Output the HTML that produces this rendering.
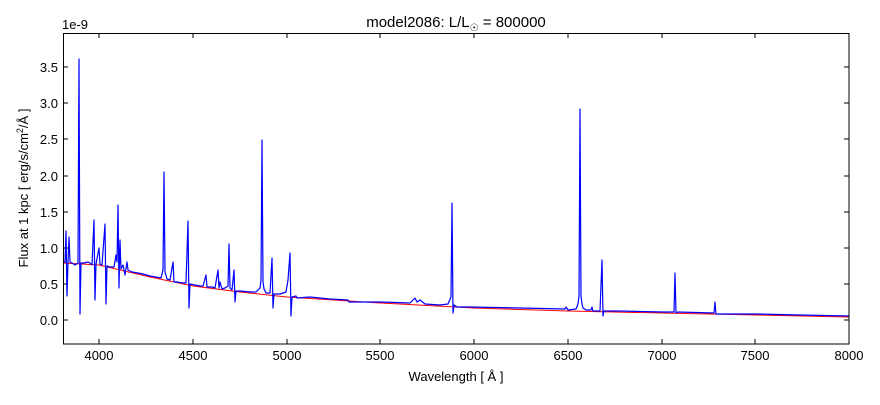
<!DOCTYPE html>
<html><head><meta charset="utf-8"><style>
html,body{margin:0;padding:0;background:#fff;}
svg text{font-family:"Liberation Sans","DejaVu Sans",sans-serif;fill:#000;}
</style></head><body>
<svg width="880" height="400" viewBox="0 0 880 400" xmlns="http://www.w3.org/2000/svg">
<rect width="880" height="400" fill="#fff"/>
<text x="456" y="27" font-size="15" text-anchor="middle">model2086: L/L<tspan font-size="10" dy="4">☉</tspan><tspan dy="-4"> = 800000</tspan></text>
<text x="62" y="29" font-size="13">1e-9</text>
<g stroke="#000" stroke-width="1">
<line x1="99" y1="344" x2="99" y2="339"/><line x1="193" y1="344" x2="193" y2="339"/><line x1="287" y1="344" x2="287" y2="339"/><line x1="380" y1="344" x2="380" y2="339"/><line x1="474" y1="344" x2="474" y2="339"/><line x1="568" y1="344" x2="568" y2="339"/><line x1="662" y1="344" x2="662" y2="339"/><line x1="755" y1="344" x2="755" y2="339"/>
<line x1="99" y1="33" x2="99" y2="38"/><line x1="193" y1="33" x2="193" y2="38"/><line x1="287" y1="33" x2="287" y2="38"/><line x1="380" y1="33" x2="380" y2="38"/><line x1="474" y1="33" x2="474" y2="38"/><line x1="568" y1="33" x2="568" y2="38"/><line x1="662" y1="33" x2="662" y2="38"/><line x1="755" y1="33" x2="755" y2="38"/>
<line x1="63" y1="320" x2="68" y2="320"/><line x1="63" y1="284" x2="68" y2="284"/><line x1="63" y1="248" x2="68" y2="248"/><line x1="63" y1="212" x2="68" y2="212"/><line x1="63" y1="176" x2="68" y2="176"/><line x1="63" y1="139" x2="68" y2="139"/><line x1="63" y1="103" x2="68" y2="103"/><line x1="63" y1="67" x2="68" y2="67"/>
<line x1="849" y1="320" x2="844" y2="320"/><line x1="849" y1="284" x2="844" y2="284"/><line x1="849" y1="248" x2="844" y2="248"/><line x1="849" y1="212" x2="844" y2="212"/><line x1="849" y1="176" x2="844" y2="176"/><line x1="849" y1="139" x2="844" y2="139"/><line x1="849" y1="103" x2="844" y2="103"/><line x1="849" y1="67" x2="844" y2="67"/>
</g>
<path d="M63,263 L99,265 L150,277 L193,286 L240,292 L287,297 L380,303 L474,308 L568,311 L662,313 L756,315 L849,317" fill="none" stroke="#ff0000" stroke-width="1"/>
<path d="M63,262 L65,262 L66,231 L67,296 L68,262 L69,237 L70,262 L72,263 L75,265 L78,263 L79,59 L80,314 L81,263 L84,263 L88,262 L90,263 L92,265 L94,220 L95,300 L96,264 L99,248 L100,264 L102,265 L105,224 L106,304 L107,266 L110,267 L114,267 L116,255 L117,262 L118,205 L119,288 L120,240 L121,269 L123,265 L125,275 L127,262 L128,270 L132,272 L138,273 L143,274 L150,276 L156,277 L161,278 L163,270 L164,172 L165,272 L167,279 L170,280 L173,262 L174,282 L177,282 L183,283 L186,283 L188,221 L189,308 L190,284 L195,285 L200,286 L203,286 L206,275 L207,287 L212,287 L215,288 L218,270 L219,288 L220,282 L222,289 L225,288 L228,286 L229,244 L230,288 L232,290 L234,270 L235,302 L236,291 L240,291 L250,292 L256,292 L260,288 L261,280 L262,140 L263,282 L264,289 L266,293 L270,293 L272,258 L273,308 L274,294 L280,294 L286,292 L288,280 L290,253 L291,316 L292,297 L296,296 L297,298 L310,297 L330,299 L348,300 L349,302 L380,302 L410,303 L413,300 L415,298 L417,302 L420,300 L425,304 L440,305 L448,304 L451,297 L452,203 L453,313 L454,305 L457,307 L470,307 L520,308 L565,309 L566,307 L568,310 L576,309 L578,304 L579,296 L580,109 L581,296 L582,304 L583,308 L586,310 L591,310 L592,307 L593,311 L600,311 L602,260 L603,316 L604,311 L620,311 L662,312 L674,312 L675,273 L676,313 L678,312 L714,313 L715,302 L716,314 L756,314 L800,315 L849,316" fill="none" stroke="#0000ff" stroke-width="1.2" stroke-linejoin="round"/>
<rect x="63.5" y="33.5" width="785.5" height="310.5" fill="none" stroke="#000" stroke-width="1"/>
<g font-size="13" text-anchor="middle">
<text x="99" y="360">4000</text><text x="193" y="360">4500</text><text x="287" y="360">5000</text><text x="380" y="360">5500</text><text x="474" y="360">6000</text><text x="568" y="360">6500</text><text x="662" y="360">7000</text><text x="755" y="360">7500</text><text x="849" y="360">8000</text>
</g>
<g font-size="13" text-anchor="end">
<text x="58" y="325">0.0</text><text x="58" y="289">0.5</text><text x="58" y="253">1.0</text><text x="58" y="217">1.5</text><text x="58" y="181">2.0</text><text x="58" y="144">2.5</text><text x="58" y="108">3.0</text><text x="58" y="72">3.5</text>
</g>
<text x="456" y="381" font-size="13" text-anchor="middle">Wavelength [ Å ]</text>
<text transform="translate(28,188) rotate(-90)" font-size="13" text-anchor="middle">Flux at 1 kpc [ erg/s/cm<tspan font-size="9" dy="-5">2</tspan><tspan dy="5">/Å ]</tspan></text>
</svg>
</body></html>
